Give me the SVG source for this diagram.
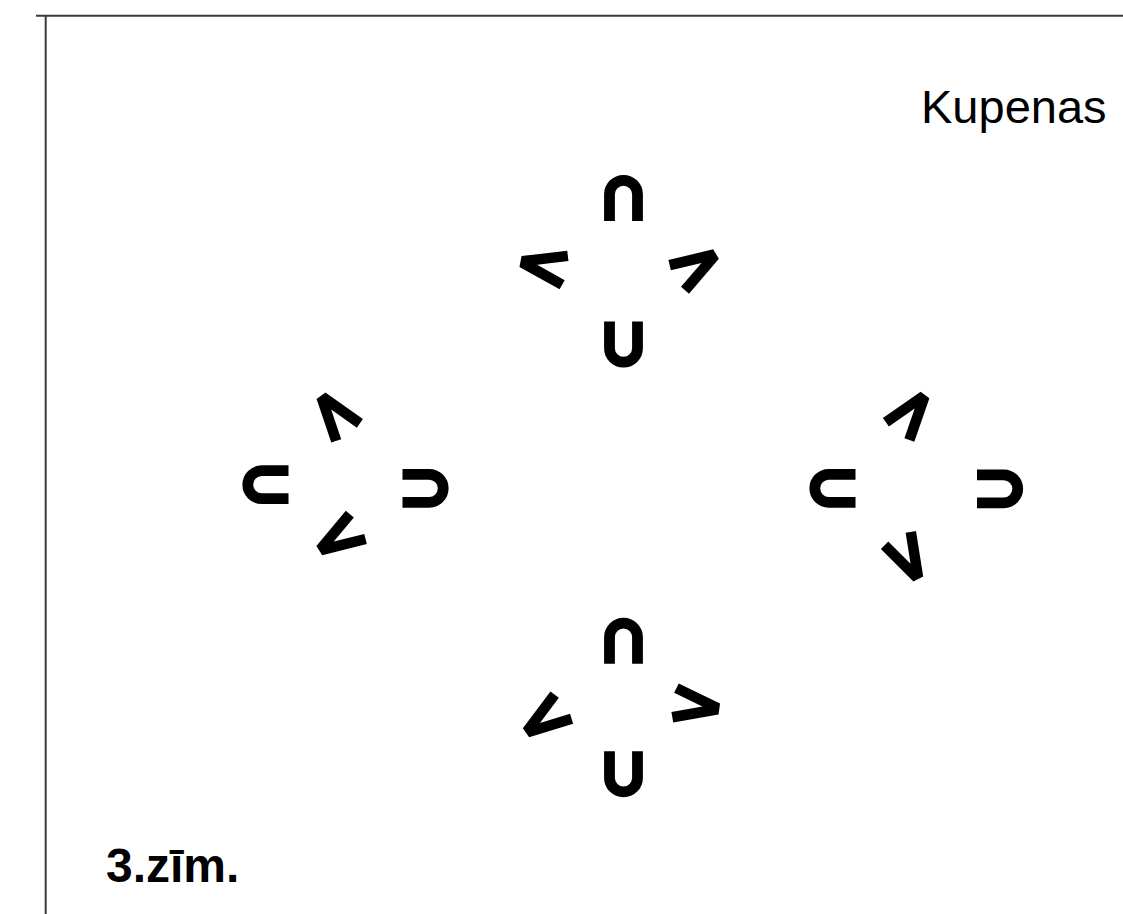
<svg xmlns="http://www.w3.org/2000/svg" xmlns:xlink="http://www.w3.org/1999/xlink" width="1123" height="914" viewBox="0 0 1123 914">
  <style>
    .frame { stroke: #3a3a3a; stroke-width: 2; fill: none; }
    .arch { stroke: #000; stroke-width: 10.8; fill: none; stroke-linecap: butt; }
    .chev { fill: #000; stroke: none; }
    .label { font-family: "Liberation Sans", Arial, Helvetica, sans-serif; fill: #000; }
  </style>
  <defs>
    <path id="archShape" class="arch" d="M-14,23 V-3.7 A14,14 0 0 1 14,-3.7 V23"/>
    <polygon id="chevShape" class="chev" points="-5.5,0 -19.71,-43.75 -9.72,-46.99 0,-17.07 9.72,-46.99 19.71,-43.75 5.5,0"/>
  </defs>
  <rect width="1123" height="914" fill="#fff"/>

  <g id="frame">
    <line class="frame" x1="36" y1="15.7" x2="1123" y2="15.7"/>
    <line class="frame" x1="45.7" y1="15" x2="45.7" y2="914"/>
  </g>

  <g id="title">
    <text class="label" x="921" y="123" font-size="47">Kupenas</text>
  </g>

  <g id="cluster-top">
    <use xlink:href="#archShape" href="#archShape" transform="translate(623.5,198)"/>
    <use xlink:href="#archShape" href="#archShape" transform="translate(623.5,344.5) rotate(180)"/>
    <use xlink:href="#chevShape" href="#chevShape" transform="translate(520.5,261.5) rotate(101.2)"/>
    <use xlink:href="#chevShape" href="#chevShape" transform="translate(716,254) rotate(238.5)"/>
  </g>

  <g id="cluster-left">
    <use xlink:href="#archShape" href="#archShape" transform="translate(265.5,484.7) rotate(-90)"/>
    <use xlink:href="#archShape" href="#archShape" transform="translate(425.5,488.3) rotate(90)"/>
    <use xlink:href="#chevShape" href="#chevShape" transform="translate(321,395.7) rotate(143.4)"/>
    <use xlink:href="#chevShape" href="#chevShape" transform="translate(319.3,550.7) rotate(57.8)"/>
  </g>

  <g id="cluster-right">
    <use xlink:href="#archShape" href="#archShape" transform="translate(832.5,488.3) rotate(-90)"/>
    <use xlink:href="#archShape" href="#archShape" transform="translate(1000,488.8) rotate(90)"/>
    <use xlink:href="#chevShape" href="#chevShape" transform="translate(925,395) rotate(217.1)"/>
    <use xlink:href="#chevShape" href="#chevShape" transform="translate(918.3,579) rotate(-27)"/>
  </g>

  <g id="cluster-bottom">
    <use xlink:href="#archShape" href="#archShape" transform="translate(623.5,640.8)"/>
    <use xlink:href="#archShape" href="#archShape" transform="translate(623.5,774.2) rotate(180)"/>
    <use xlink:href="#chevShape" href="#chevShape" transform="translate(526,732.7) rotate(54.9)"/>
    <use xlink:href="#chevShape" href="#chevShape" transform="translate(719.3,709) rotate(278)"/>
  </g>

  <g id="caption">
    <text class="label" x="106" y="882" font-size="48" font-weight="bold">3.zīm.</text>
  </g>
</svg>
